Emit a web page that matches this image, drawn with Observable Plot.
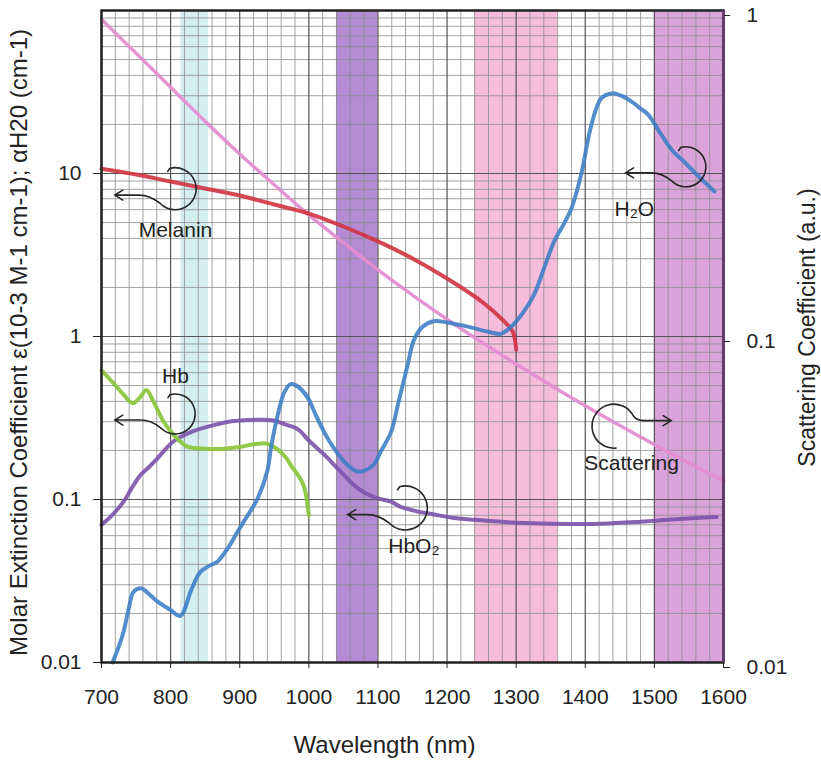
<!DOCTYPE html>
<html>
<head>
<meta charset="utf-8">
<script src="https://cdn.jsdelivr.net/npm/d3@7"></script>
<script src="https://cdn.jsdelivr.net/npm/@observablehq/plot@0.6"></script>
<style>
  html, body { margin: 0; padding: 0; background: #fff; }
</style>
</head>
<body>
<div id="chart"></div>
<script>
// ---------- data ----------
const xTicks = [700, 800, 900, 1000, 1100, 1200, 1300, 1400, 1500, 1600];
const leftTicks = [0.01, 0.1, 1, 10];
const rightTicks = [0.01, 0.1, 1];           // scattering axis (a.u.)

const h2oNm  = [716, 725, 732, 740, 746, 757, 770, 781, 800, 814, 830, 843, 855, 868, 885, 897, 910, 926, 940, 945, 955, 965, 974, 985, 999, 1010, 1022, 1035, 1051, 1065, 1071, 1080, 1094, 1105, 1119, 1130, 1143, 1152, 1165, 1181, 1200, 1230, 1260, 1278, 1293, 1310, 1326, 1340, 1355, 1370, 1380, 1394, 1409, 1423, 1438, 1452, 1467, 1480, 1491, 1510, 1525, 1543, 1565, 1587];
const h2oVal = [0.01, 0.0125, 0.0155, 0.022, 0.027, 0.0285, 0.026, 0.0236, 0.021, 0.0193, 0.028, 0.036, 0.039, 0.0417, 0.052, 0.0636, 0.078, 0.1017, 0.15, 0.205, 0.33, 0.46, 0.51, 0.49, 0.417, 0.33, 0.26, 0.21, 0.171, 0.152, 0.148, 0.15, 0.164, 0.2, 0.26, 0.4, 0.67, 0.95, 1.15, 1.24, 1.22, 1.15, 1.07, 1.04, 1.15, 1.4, 1.81, 2.6, 3.83, 5.0, 6.1, 9.85, 20, 28.9, 31, 30, 27.6, 25, 23, 17.3, 14, 11.8, 9.5, 7.76];

const hbNm  = [700, 715, 730, 745, 755, 765, 775, 790, 804, 815, 825, 850, 877, 900, 926, 940, 950, 965, 975, 985, 993, 1000];
const hbVal = [0.62, 0.53, 0.45, 0.39, 0.42, 0.47, 0.4, 0.3, 0.25, 0.225, 0.21, 0.205, 0.205, 0.21, 0.22, 0.22, 0.21, 0.185, 0.16, 0.14, 0.12, 0.08];

const hbo2Nm  = [700, 715, 732, 745, 757, 770, 781, 804, 830, 854, 880, 901, 925, 949, 965, 984, 1000, 1022, 1045, 1071, 1095, 1119, 1133, 1160, 1181, 1210, 1239, 1300, 1351, 1423, 1480, 1520, 1560, 1590];
const hbo2Val = [0.07, 0.08, 0.097, 0.12, 0.142, 0.16, 0.179, 0.227, 0.26, 0.28, 0.298, 0.305, 0.308, 0.305, 0.29, 0.27, 0.23, 0.189, 0.15, 0.117, 0.103, 0.097, 0.09, 0.084, 0.081, 0.077, 0.075, 0.072, 0.071, 0.071, 0.073, 0.075, 0.077, 0.078];

const melaninNm  = [700, 750, 800, 850, 900, 950, 1000, 1050, 1100, 1150, 1200, 1250, 1280, 1295, 1300];
const melaninVal = [10.7, 9.86, 8.93, 8.09, 7.33, 6.45, 5.68, 4.73, 3.83, 3.01, 2.27, 1.64, 1.27, 1.07, 0.83];

const scatNm  = [700, 750, 800, 850, 900, 950, 1000, 1050, 1100, 1150, 1200, 1250, 1300, 1350, 1400, 1450, 1500, 1550, 1600];
const scatVal = [0.94, 0.739, 0.582, 0.457, 0.363, 0.292, 0.236, 0.194, 0.16, 0.134, 0.113, 0.0961, 0.0823, 0.0709, 0.0613, 0.0533, 0.0466, 0.0409, 0.0361]; // right axis units

const bandStart = [815, 1040, 1240, 1500];
const bandEnd   = [855, 1100, 1360, 1600];
const bandColor = ["#d5eef1", "#b48bd2", "#f5bcdc", "#daa4db"];

// annotations (data coordinates)
const annLabel    = ["Melanin", "Hb", "HbO\u2082", "H\u2082O", "Scattering"];
const annLabelNm  = [807, 807, 1152, 1471, 1467];
const annLabelVal = [4.5, 0.57, 0.0515, 6.0, 0.166];
const annCurlNm   = [807, 807, 1140, 1546, 1442];
const annCurlVal  = [8.0, 0.332, 0.088, 10.9, 0.28];
const annCurlR    = [21, 20, 22, 20, 22];
const annTipNm    = [720, 720, 1057, 1459, 1525];
const annDir      = [-1, -1, -1, -1, 1];

// ---------- build ----------
const toLeft = r => 100 * r * r;   // right axis (2 decades) mapped onto left axis (4 decades)
const series = (nm, val) => nm.map((x, i) => ({x, y: val[i]}));
const h2o = series(h2oNm, h2oVal);
const hb = series(hbNm, hbVal);
const hbo2 = series(hbo2Nm, hbo2Val);
const melanin = series(melaninNm, melaninVal);
const scat = scatNm.map((x, i) => ({x, y: toLeft(scatVal[i])}));
const bands = bandStart.map((s, i) => ({x1: s, x2: bandEnd[i], fill: bandColor[i]}));

const minorX = d3.range(700, 1601, 20).filter(d => d % 100 !== 0);
const majorX = d3.range(700, 1601, 100);
const decades = [0.01, 0.1, 1, 10];
const minorY = decades.flatMap(d => d3.range(2, 10).map(k => +(d * k).toPrecision(3)));
const majorY = [0.01, 0.1, 1, 10, 100];
const rightPos = rightTicks.map(toLeft);

const font = "'Liberation Sans', Arial, Helvetica, sans-serif";

const plot = Plot.plot({
  width: 821,
  height: 761,
  marginLeft: 101,
  marginRight: 98,
  marginTop: 10,
  marginBottom: 99,
  style: {fontFamily: font, fontSize: "21px", color: "#222", background: "#fff", overflow: "visible"},
  x: {domain: [700, 1600], label: null},
  y: {type: "log", domain: [0.01, 100], label: null},
  marks: [
    Plot.rect(bands, {x1: "x1", x2: "x2", fill: "fill"}),
    Plot.ruleX(minorX, {stroke: "#8c8c8c", strokeWidth: 1, strokeOpacity: 0.8}),
    Plot.ruleY(minorY, {stroke: "#8c8c8c", strokeWidth: 1, strokeOpacity: 0.8}),
    Plot.ruleX(majorX, {stroke: "#555", strokeWidth: 1.2}),
    Plot.ruleY(majorY, {stroke: "#555", strokeWidth: 1.2}),
    Plot.line(scat, {x: "x", y: "y", stroke: "#e48ed1", strokeWidth: 3.5, curve: "catmull-rom", strokeOpacity: 0.95}),
    Plot.line(melanin, {x: "x", y: "y", stroke: "#cf3340", strokeWidth: 4, curve: "catmull-rom", strokeOpacity: 0.9}),
    Plot.line(hbo2, {x: "x", y: "y", stroke: "#7b52a8", strokeWidth: 4, curve: "catmull-rom", strokeOpacity: 0.9}),
    Plot.line(hb, {x: "x", y: "y", stroke: "#8dc63f", strokeWidth: 4, curve: "catmull-rom", strokeOpacity: 0.95}),
    Plot.line(h2o, {x: "x", y: "y", stroke: "#3b7dc4", strokeWidth: 4, curve: "catmull-rom", strokeOpacity: 0.88}),
    Plot.frame({stroke: "#222", strokeWidth: 2.5}),
    Plot.ruleX([1600], {stroke: "#6a3a78", strokeWidth: 2.5}),
    Plot.axisX(xTicks, {tickSize: 6, tickPadding: 21, label: null, tickFormat: d => String(d), fontSize: 21}),
    Plot.axisY(leftTicks, {anchor: "left", tickSize: 8, tickPadding: 12, label: null, tickFormat: d => String(d), fontSize: 21}),
    Plot.axisY(rightPos, {anchor: "right", tickSize: 6, tickPadding: 17, label: null, tickFormat: d => String(rightTicks[rightPos.indexOf(d)]), fontSize: 21, dy: 5}),
    Plot.text(["Molar Extinction Coefficient \u03B5(10-3 M-1 cm-1); \u03B1H20 (cm-1)"], {frameAnchor: "left", dx: -82, dy: 6, rotate: -90, textAnchor: "middle", lineAnchor: "middle", fontSize: 24, fill: "#222"}),
    Plot.text(["Scattering Coefficient (a.u.)"], {frameAnchor: "right", dx: 84, dy: -9, rotate: -90, textAnchor: "middle", lineAnchor: "middle", fontSize: 23, fill: "#222"}),
    Plot.text(["Wavelength (nm)"], {frameAnchor: "bottom", dx: -28, dy: 83, textAnchor: "middle", lineAnchor: "middle", fontSize: 24, fill: "#222"}),
    Plot.text(annLabel, {x: (d, i) => annLabelNm[i], y: (d, i) => annLabelVal[i], text: d => d, fontSize: 21, fill: "#222", textAnchor: "middle", lineAnchor: "middle"})
  ]
});

document.getElementById("chart").appendChild(plot);

// curly annotation arrows, positioned through the plot's own scales
const sx = plot.scale("x"), sy = plot.scale("y");
const xs = d3.scaleLinear(sx.domain, sx.range);
const ys = d3.scaleLog(sy.domain, sy.range);
const svg = d3.select(plot.tagName.toLowerCase() === "svg" ? plot : plot.querySelector("svg"));
const g = svg.append("g").attr("fill", "none").attr("stroke", "#262626").attr("stroke-width", 1.6).attr("stroke-linecap", "round");
annLabel.forEach((lab, i) => {
  const cx = xs(annCurlNm[i]), cy = ys(annCurlVal[i]), r = annCurlR[i], tip = xs(annTipNm[i]), dir = annDir[i];
  let p;
  if (dir < 0) {
    const s = [cx - 0.7 * r, cy + 0.7 * r], e = [cx - 0.25 * r, cy - 0.97 * r], sy0 = cy + 0.3 * r;
    p = `M${s[0]},${s[1]} A${r},${r} 0 1 0 ${e[0]},${e[1]} l-2,3 ` +
        `M${s[0]},${s[1]} Q${cx - 1.2 * r},${sy0} ${cx - 1.7 * r},${sy0} H${tip} ` +
        `M${tip + 8},${sy0 - 5} L${tip},${sy0} L${tip + 8},${sy0 + 5}`;
  } else {
    const s = [cx + 0.1 * r, cy + r], e = [cx + 0.9 * r, cy - 0.45 * r], sy0 = cy - 0.25 * r;
    p = `M${s[0]},${s[1]} A${r},${r} 0 1 1 ${e[0]},${e[1]} Q${cx + 1.05 * r},${sy0} ${cx + 1.4 * r},${sy0} H${tip} ` +
        `M${tip - 8},${sy0 - 5} L${tip},${sy0} L${tip - 8},${sy0 + 5}`;
  }
  g.append("path").attr("d", p);
});
</script>
</body>
</html>
